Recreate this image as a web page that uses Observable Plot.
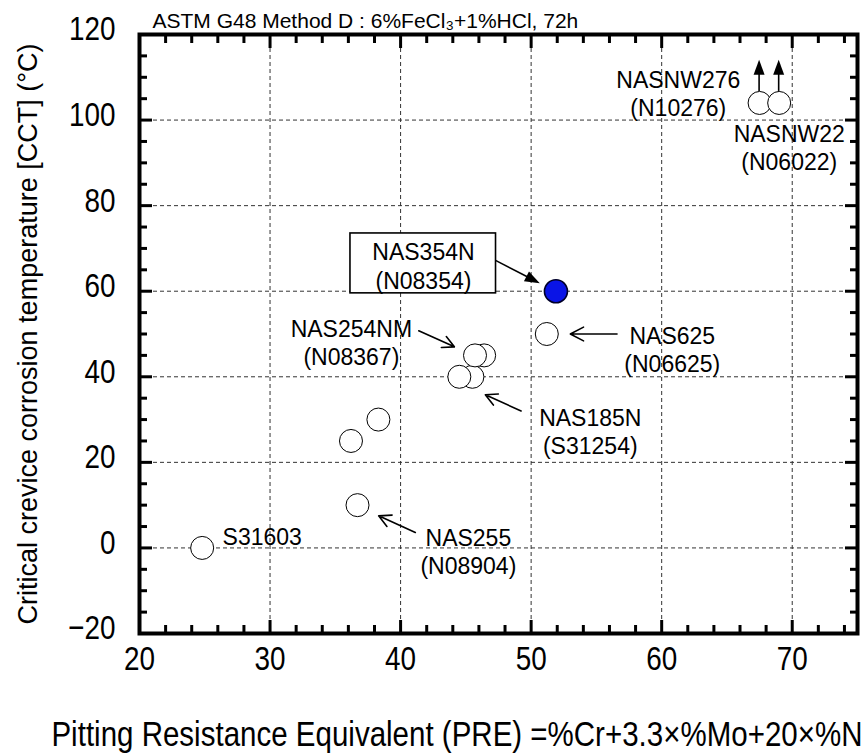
<!DOCTYPE html>
<html><head><meta charset="utf-8">
<script src="https://cdn.jsdelivr.net/npm/d3@7"></script>
<script src="https://cdn.jsdelivr.net/npm/@observablehq/plot@0.6"></script>
<style>html,body{margin:0;padding:0;background:#fff;overflow:hidden}</style>
</head><body><div id="chart"></div>
<script>
// "Narrow" is not installed: Liberation Sans is used and squeezed horizontally after rendering
const NARROW = "'Liberation Sans Narrow','Liberation Sans',Arial,sans-serif";
const SANS = "'Liberation Sans',Arial,Helvetica,sans-serif";

// ---- texts ----
const chartTitle = "ASTM G48 Method D : 6%FeCl₃+1%HCl, 72h";
const xTitle = "Pitting Resistance Equivalent (PRE) =%Cr+3.3×%Mo+20×%N";
const yTitle = "Critical crevice corrosion temperature [CCT] (°C)";

// ---- ticks ----
const xMajorTicks = [20, 30, 40, 50, 60, 70];
const xMinorTicks = [22, 24, 26, 28, 32, 34, 36, 38, 42, 44, 46, 48, 52, 54, 56, 58, 62, 64, 66, 68, 72, 74];
const yMajorTicks = [-20, 0, 20, 40, 60, 80, 100, 120];
const yMinorTicks = [-15, -10, -5, 5, 10, 15, 25, 30, 35, 45, 50, 55, 65, 70, 75, 85, 90, 95, 105, 110, 115];

// ---- data points (PRE, CCT) ----
const grade       = ["S31603", "NAS255", "", "", "NAS185N", "NAS185N", "NAS254NM", "NAS254NM", "NAS625", "NAS354N", "NASNW276", "NASNW22"];
const pre         = [24.8, 36.7, 36.2, 38.3, 45.5, 44.5, 46.4, 45.7, 51.2, 51.9, 67.5, 69.0];
const cct         = [0, 10, 25, 30, 40, 40, 45, 45, 50, 60, 104, 104];
const highlighted = [false, false, false, false, false, false, false, false, false, true, false, false];
const aboveRange  = [false, false, false, false, false, false, false, false, false, false, true, true];
const aboveTip    = 114;

// ---- annotation labels ----
const labelText = ["NASNW276\n(N10276)", "NASNW22\n(N06022)", "NAS354N\n(N08354)", "NAS254NM\n(N08367)", "NAS625\n(N06625)", "NAS185N\n(S31254)", "NAS255\n(N08904)", "S31603"];
const labelX    = [61.27, 69.77, 41.75, 36.23, 60.81, 54.53, 45.19, 29.4];
const labelY    = [106.3, 93.6, 66.0, 48.2, 46.55, 27.25, -0.7, 2.8];

// ---- label box (NAS354N) ----
const boxX1 = [36.16], boxX2 = [47.31], boxY1 = [59.5], boxY2 = [73.5];

// ---- open arrows ----
const arrowX1 = [41.39, 49.23, 56.58, 41.13];
const arrowY1 = [50.76, 32.0, 50.0, 3.6];
const arrowX2 = [44.12, 46.49, 53.0, 38.32];
const arrowY2 = [47.0, 35.8, 50.0, 7.5];

// ---- filled arrow (box -> NAS354N) ----
const solidX1 = [47.31], solidY1 = [67.1], solidX2 = [50.7], solidY2 = [61.75];

// build tables
const points = pre.map((x, i) => ({x, y: cct[i], grade: grade[i], hi: highlighted[i], up: aboveRange[i]}));
const labels = labelText.map((t, i) => ({t, x: labelX[i], y: labelY[i]}));
const boxes = boxX1.map((v, i) => ({x1: v, x2: boxX2[i], y1: boxY1[i], y2: boxY2[i]}));
const arrows = arrowX1.map((v, i) => ({x1: v, y1: arrowY1[i], x2: arrowX2[i], y2: arrowY2[i]}));
const solidArrows = solidX1.map((v, i) => ({x1: v, y1: solidY1[i], x2: solidX2[i], y2: solidY2[i], inset: 0}))
  .concat(points.filter(d => d.up).map(d => ({x1: d.x, y1: d.y, x2: d.x, y2: aboveTip, inset: 11.5})));

const R = 11.5;

function filledArrowMark(index, scales, values, dimensions, context) {
  const g = d3.create("svg:g");
  for (const a of solidArrows) {
    const x1 = scales.x(a.x1), y1 = scales.y(a.y1), x2 = scales.x(a.x2), y2 = scales.y(a.y2);
    const ang = Math.atan2(y2 - y1, x2 - x1), c = Math.cos(ang), s = Math.sin(ang);
    const sx = x1 + a.inset * c, sy = y1 + a.inset * s;
    const L = 15, W = 5.5;
    const bx = x2 - L * c, by = y2 - L * s;
    g.append("line").attr("x1", sx).attr("y1", sy).attr("x2", bx + 2 * c).attr("y2", by + 2 * s)
      .attr("stroke", "black").attr("stroke-width", 1.6);
    g.append("path").attr("d", `M${x2},${y2}L${bx - W * s},${by + W * c}L${bx + W * s},${by - W * c}Z`)
      .attr("fill", "black");
  }
  return g.node();
}

const tickStyle = {stroke: "black", fill: "none", label: null};

const chart = Plot.plot({
  width: 866,
  height: 753,
  marginLeft: 139,
  marginRight: 9,
  marginTop: 34,
  marginBottom: 120,
  style: {fontFamily: SANS, background: "white", color: "black"},
  x: {domain: [20, 75], axis: null, label: null},
  y: {domain: [-20, 120], axis: null, label: null},
  marks: [
    Plot.gridX(xMajorTicks.filter(v => v > 20 && v < 75), {stroke: "#333", strokeOpacity: 1, strokeWidth: 1, strokeDasharray: "4,3"}),
    Plot.gridY(yMajorTicks.filter(v => v > -20 && v < 120), {stroke: "#333", strokeOpacity: 1, strokeWidth: 1, strokeDasharray: "4,3"}),
    Plot.rect(boxes, {x1: "x1", x2: "x2", y1: "y1", y2: "y2", fill: "white", stroke: "black", strokeWidth: 1.6}),
    Plot.arrow(arrows, {x1: "x1", y1: "y1", x2: "x2", y2: "y2", stroke: "black", strokeWidth: 1.6, headLength: 14, headAngle: 55}),
    filledArrowMark,
    Plot.dot(points, {x: "x", y: "y", r: R, fill: d => d.hi ? "#0a14e6" : "white", stroke: d => d.hi ? "#00002a" : "black", strokeWidth: d => d.hi ? 1.6 : 1}),
    Plot.text(labels, {x: "x", y: "y", text: "t", fontSize: 23, lineHeight: 1.22, fontFamily: SANS, fill: "black"}),
    Plot.text([chartTitle], {frameAnchor: "top-left", textAnchor: "start", lineAnchor: "bottom", dx: 13, dy: -7, fontSize: 21, fontFamily: SANS, fill: "black"}),
    Plot.text([yTitle], {frameAnchor: "left", textAnchor: "middle", rotate: -90, dx: -111, fontSize: 27, fontFamily: SANS, fill: "black"}),
    Plot.text([xTitle], {frameAnchor: "bottom-right", textAnchor: "end", lineAnchor: "bottom", dx: 5, dy: 112, fontSize: 36, fontFamily: NARROW, fill: "black"}),
    Plot.frame({stroke: "black", strokeWidth: 4}),
    // ticks (inward)
    Plot.axisX(xMajorTicks, {anchor: "bottom", tickSize: -13, strokeWidth: 3, ...tickStyle}),
    Plot.axisX(xMinorTicks, {anchor: "bottom", tickSize: -8, strokeWidth: 3, ...tickStyle}),
    Plot.axisX(xMajorTicks, {anchor: "top", tickSize: -13, strokeWidth: 3, ...tickStyle}),
    Plot.axisX(xMinorTicks, {anchor: "top", tickSize: -8, strokeWidth: 3, ...tickStyle}),
    Plot.axisY(yMajorTicks, {anchor: "left", tickSize: -13, strokeWidth: 3, ...tickStyle}),
    Plot.axisY(yMinorTicks, {anchor: "left", tickSize: -8, strokeWidth: 3, ...tickStyle}),
    Plot.axisY(yMajorTicks, {anchor: "right", tickSize: -13, strokeWidth: 3, ...tickStyle}),
    Plot.axisY(yMinorTicks, {anchor: "right", tickSize: -8, strokeWidth: 3, ...tickStyle}),
    // tick labels
    Plot.axisX(xMajorTicks, {anchor: "bottom", tickSize: 0, tickPadding: 12, fontSize: 34, fontFamily: NARROW, fill: "black", label: null}),
    Plot.axisY(yMajorTicks, {anchor: "left", tickSize: 0, tickPadding: 24, dy: -5, fontSize: 34, fontFamily: NARROW, fill: "black", label: null})
  ]
});

// squeeze the "narrow" texts horizontally around their anchor
d3.select(chart).selectAll("g")
  .filter(function () { return (this.getAttribute("font-family") || "").includes("Narrow"); })
  .selectAll("text")
  .each(function () {
    const t = this.getAttribute("transform") || "";
    this.setAttribute("transform", t + " scale(0.82,1)");
  });

document.getElementById("chart").appendChild(chart);
</script>
</body></html>
